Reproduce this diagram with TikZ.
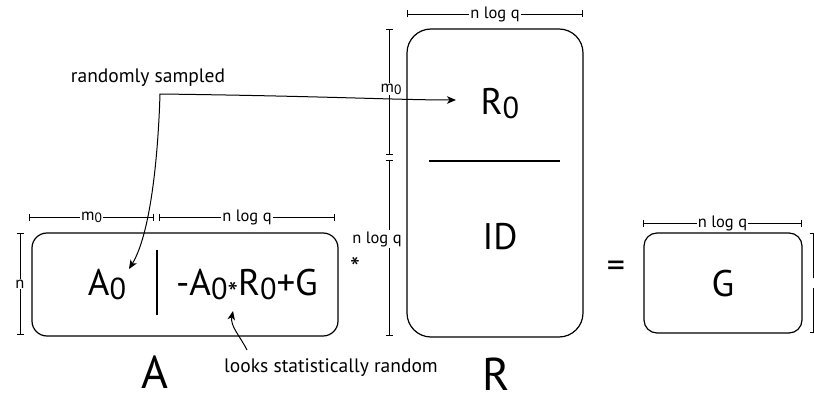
\documentclass[tikz,border=0pt]{standalone}
\usepackage{graphicx}
\usepackage{fontspec}
\setmainfont{PT Sans}
\usetikzlibrary{arrows.meta}
\newcommand\zsub[1]{\raisebox{-0.12em}{\scalebox{0.82}{#1}}}
\newcommand\zast{\raisebox{-0.24em}{\scalebox{0.8}{*}}}
\begin{document}
\begin{tikzpicture}[x=1pt,y=-1pt,
  mbox/.style={draw,line width=1.2pt,inner sep=0pt},
  dimline/.style={line width=0.9pt,{Bar[width=7pt]}-{Bar[width=7pt]}},
  dimlab/.style={fill=white,inner sep=1.2pt,font=\fontsize{16.5}{16.5}\selectfont},
  big/.style={inner sep=0pt,anchor=base,font=\fontsize{37}{37}\selectfont},
  huge/.style={inner sep=0pt,anchor=base,font=\fontsize{46}{46}\selectfont},
  note/.style={inner sep=0pt,anchor=base,font=\fontsize{19.5}{19.5}\selectfont},
  ann/.style={line width=1pt,-{Stealth[length=9pt,width=7.5pt,inset=2.5pt]}},
  divider/.style={line width=1.1pt}]
\useasboundingbox (0,0) rectangle (814,396);

% boxes
\node[mbox,rounded corners=15pt,minimum width=306pt,minimum height=103pt] (boxA) at (185,284.5) {};
\node[mbox,rounded corners=24pt,minimum width=176pt,minimum height=308pt] (boxR) at (495,183) {};
\node[mbox,rounded corners=13pt,minimum width=158pt,minimum height=100pt] (boxG) at (723,283) {};

% contents of A
\node[big] (a0) at (107,295) {A\zsub{0}};
\coordinate (dAt) at (157,250);
\coordinate (dAb) at (157,315);
\draw[divider] (dAt) -- (dAb);
\node[big] (expr) at (247,295) {-A\zsub{0}\zast R\zsub{0}+G};

% contents of R
\node[big] (r0) at (500,114) {R\zsub{0}};
\coordinate (dRl) at (429,161);
\coordinate (dRr) at (560,161);
\draw[divider] (dRl) -- (dRr);
\node[big] (id) at (500,249) {ID};

% contents of G
\node[big] (g) at (723,296) {G};

% big labels and operators
\node[huge] (labA) at (155,388) {A};
\node[huge] (labR) at (496,390) {R};
\node[inner sep=0pt,font=\fontsize{28}{28}\selectfont] (star) at (355,267) {*};
\node[inner sep=0pt,font=\fontsize{36}{36}\selectfont] (eq) at (616,269) {=};

% dimension lines for A
\coordinate (am1) at (29,217);
\coordinate (am2) at (154,217);
\coordinate (an1) at (159,217);
\coordinate (an2) at (335,217);
\draw[dimline] (am1) -- node[dimlab] (lam) {m\zsub{0}} (am2);
\draw[dimline] (an1) -- node[dimlab] (lan) {n log q} (an2);
\coordinate (av1) at (20,233);
\coordinate (av2) at (20,335);
\draw[dimline] (av1) -- node[dimlab] (lav) {n} (av2);

% dimension lines for R
\coordinate (rt1) at (407,14);
\coordinate (rt2) at (583,14);
\draw[dimline] (rt1) -- node[dimlab] (lrt) {n log q} (rt2);
\coordinate (rv1) at (389,29);
\coordinate (rv2) at (389,155);
\coordinate (rv3) at (389,160);
\coordinate (rv4) at (389,336);
\draw[dimline] (rv1) -- (rv2);
\draw[dimline] (rv3) -- (rv4);
\node[dimlab] (lrm) at (391,89) {m\zsub{0}};
\node[dimlab] (lrn) at (377,239) {n log q};

% dimension lines for G
\coordinate (gt1) at (643,223);
\coordinate (gt2) at (802,223);
\draw[dimline] (gt1) -- node[dimlab] (lgt) {n log q} (gt2);
\coordinate (gv1) at (813,233);
\coordinate (gv2) at (813,333);
\draw[dimline] (gv1) -- (gv2);
\node[dimlab] (lgv) at (819,283) {n};

% annotations
\node[note] (rs) at (148,83) {randomly sampled};
\coordinate (tipA) at (129,269);
\coordinate (corner) at (160,94);
\coordinate (tipR) at (456,100);
\draw[ann,{Stealth[length=9pt,width=7.5pt,inset=2.5pt]}-{Stealth[length=9pt,width=7.5pt,inset=2.5pt]}]
  (tipA) .. controls (150,235) and (158,160) .. (corner)
  .. controls (320,96) and (400,100) .. (tipR);

\node[note] (lsr) at (331,372) {looks statistically random};
\coordinate (ls1) at (247,350);
\coordinate (ls2) at (233,311);
\draw[ann] (ls1) .. controls (240,336) and (230,326) .. (ls2);
\end{tikzpicture}
\end{document}
